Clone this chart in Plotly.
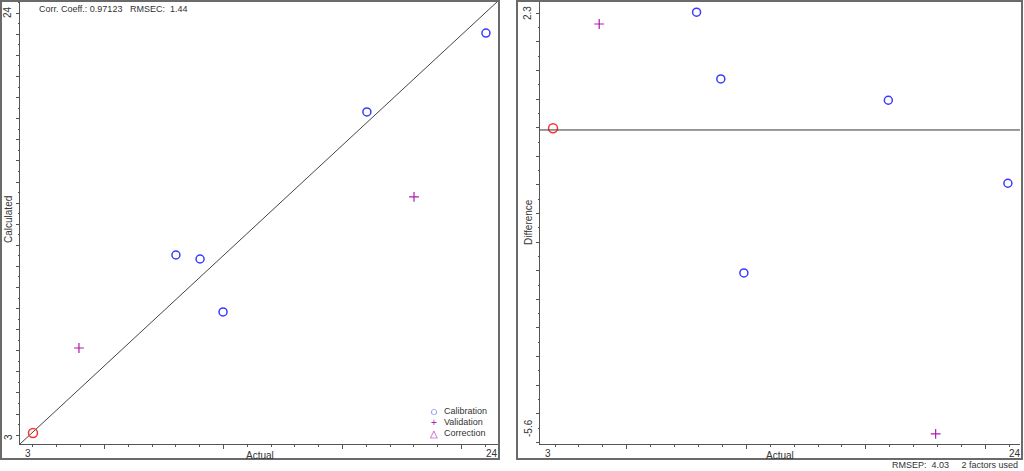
import plotly.graph_objects as go

W, H = 1024, 471

# values
axis_range = [3, 24]
diff_range = [-5.6, 2.3]

cal_actual = [9.85, 10.91, 11.92, 18.24, 23.47]
cal_calc = [11.96, 11.77, 9.26, 18.74, 22.48]
val_actual = [5.59, 20.31]
val_calc = [7.55, 14.71]
sel_actual = [3.57]
sel_calc = [3.52]

cal_diff = [2.10, 0.91, -2.55, 0.53, -0.95]
val_diff = [1.89, -5.42]
sel_diff = [0.03]

stats_text = "Corr. Coeff.: 0.97123   RMSEC:  1.44"
footer_text = "RMSEP:  4.03     2 factors used"
legend_items = [("○", "#3b3bff", "Calibration"),
                ("+", "#b01ab0", "Validation"),
                ("△", "#b01ab0", "Correction")]

FONT = "Liberation Sans, Arial, sans-serif"
BLUE = "#3b3bff"
PURPLE = "#b01ab0"
RED = "#ff3030"
AXC = "#555555"


def px(x):
    return x / W


def py(y):
    return 1 - y / H


fig = go.Figure()

# left panel: actual vs calculated
fig.add_trace(go.Scatter(x=axis_range, y=axis_range, mode="lines",
                         line=dict(color="#444444", width=1),
                         xaxis="x", yaxis="y", showlegend=False, hoverinfo="skip"))
fig.add_trace(go.Scatter(x=cal_actual, y=cal_calc, mode="markers", name="Calibration",
                         marker=dict(symbol="circle-open", size=8, color=BLUE,
                                     line=dict(width=1.5, color=BLUE)),
                         xaxis="x", yaxis="y"))
fig.add_trace(go.Scatter(x=val_actual, y=val_calc, mode="markers", name="Validation",
                         marker=dict(symbol="cross-thin-open", size=7, color=PURPLE,
                                     line=dict(width=1.2, color=PURPLE)),
                         xaxis="x", yaxis="y"))
fig.add_trace(go.Scatter(x=sel_actual, y=sel_calc, mode="markers", name="Selected",
                         marker=dict(symbol="circle-open", size=9, color=RED,
                                     line=dict(width=1.5, color=RED)),
                         xaxis="x", yaxis="y"))

# right panel: actual vs difference
fig.add_trace(go.Scatter(x=cal_actual, y=cal_diff, mode="markers", name="Calibration",
                         marker=dict(symbol="circle-open", size=8, color=BLUE,
                                     line=dict(width=1.5, color=BLUE)),
                         xaxis="x2", yaxis="y2"))
fig.add_trace(go.Scatter(x=val_actual, y=val_diff, mode="markers", name="Validation",
                         marker=dict(symbol="cross-thin-open", size=7, color=PURPLE,
                                     line=dict(width=1.2, color=PURPLE)),
                         xaxis="x2", yaxis="y2"))
fig.add_trace(go.Scatter(x=sel_actual, y=sel_diff, mode="markers", name="Selected",
                         marker=dict(symbol="circle-open", size=9, color=RED,
                                     line=dict(width=1.5, color=RED)),
                         xaxis="x2", yaxis="y2"))

ydom = [py(444), py(1)]


def xaxis_cfg(domain, t0, dt):
    return dict(domain=domain, range=axis_range, showgrid=False, zeroline=False,
                showline=True, linecolor=AXC, linewidth=1, mirror=False,
                showticklabels=False, ticks="outside", ticklen=4, tickcolor=AXC,
                tick0=t0 + 3 * dt / 5, dtick=dt,
                minor=dict(ticks="outside", ticklen=2, tickcolor=AXC,
                           tick0=t0, dtick=dt / 5),
                fixedrange=True)


def yaxis_cfg(rng, t0, dt, anchor):
    return dict(domain=ydom, range=rng, showgrid=False, zeroline=False,
                showline=True, linecolor=AXC, linewidth=1, anchor=anchor,
                showticklabels=False, ticks="outside", ticklen=3, tickcolor=AXC,
                tick0=t0, dtick=dt,
                minor=dict(ticks="outside", ticklen=1.5, tickcolor=AXC,
                           tick0=t0, dtick=dt / 2),
                fixedrange=True)


annotations = []


def txt(x, y, s, size=10, angle=0, xanchor="center", color="#333333"):
    annotations.append(dict(x=px(x), y=py(y), xref="paper", yref="paper", text=s,
                            showarrow=False, textangle=angle, xanchor=xanchor,
                            yanchor="middle", font=dict(family=FONT, size=size, color=color)))


# left panel texts
txt(37, 9, stats_text, size=9, xanchor="left")
txt(28, 453, "3")
txt(492, 453, "24")
txt(8, 437, "3", angle=-90)
txt(8, 12, "24", angle=-90)
txt(260, 455, "Actual")
txt(8, 220, "Calculated", angle=-90)
# right panel texts
txt(548, 453, "3")
txt(1015, 453, "24")
txt(528, 13, "2.3", angle=-90)
txt(528, 428, "-5.6", angle=-90)
txt(780, 455, "Actual")
txt(528, 222, "Difference", angle=-90)
txt(1020, 465, footer_text, size=9, xanchor="right")

# legend
for i, (sym, col, label) in enumerate(legend_items):
    yy = 411 + i * 11
    txt(434, yy, sym, size=13 if i == 0 else 10, color=col)
    txt(442, yy, label, size=9, xanchor="left")

shapes = [
    dict(type="rect", xref="paper", yref="paper", x0=px(1), x1=px(499), y0=py(459), y1=py(1),
         line=dict(color="#6a6a6a", width=2)),
    dict(type="rect", xref="paper", yref="paper", x0=px(517), x1=px(1022), y0=py(459), y1=py(1),
         line=dict(color="#6a6a6a", width=2)),
    dict(type="line", xref="x2 domain", yref="y2", x0=0, x1=1, y0=0, y1=0,
         line=dict(color="#333333", width=1)),
]

fig.update_layout(
    width=W, height=H, autosize=False,
    margin=dict(l=0, r=0, t=0, b=0),
    paper_bgcolor="white", plot_bgcolor="white",
    showlegend=False,
    font=dict(family=FONT, color="#333333"),
    xaxis=xaxis_cfg([px(20), px(498)], 3.57, 5.23),
    yaxis=yaxis_cfg(axis_range, 3.42, 1.0, "x"),
    xaxis2=xaxis_cfg([px(540), px(1020)], 3.66, 5.23) | dict(anchor="y2"),
    yaxis2=yaxis_cfg(diff_range, -0.98, 0.51, "x2"),
    annotations=annotations,
    shapes=shapes,
)

fig.write_html("out.html", config={"displayModeBar": False},
               post_script="document.body.style.margin='0';document.body.style.overflow='hidden';")
